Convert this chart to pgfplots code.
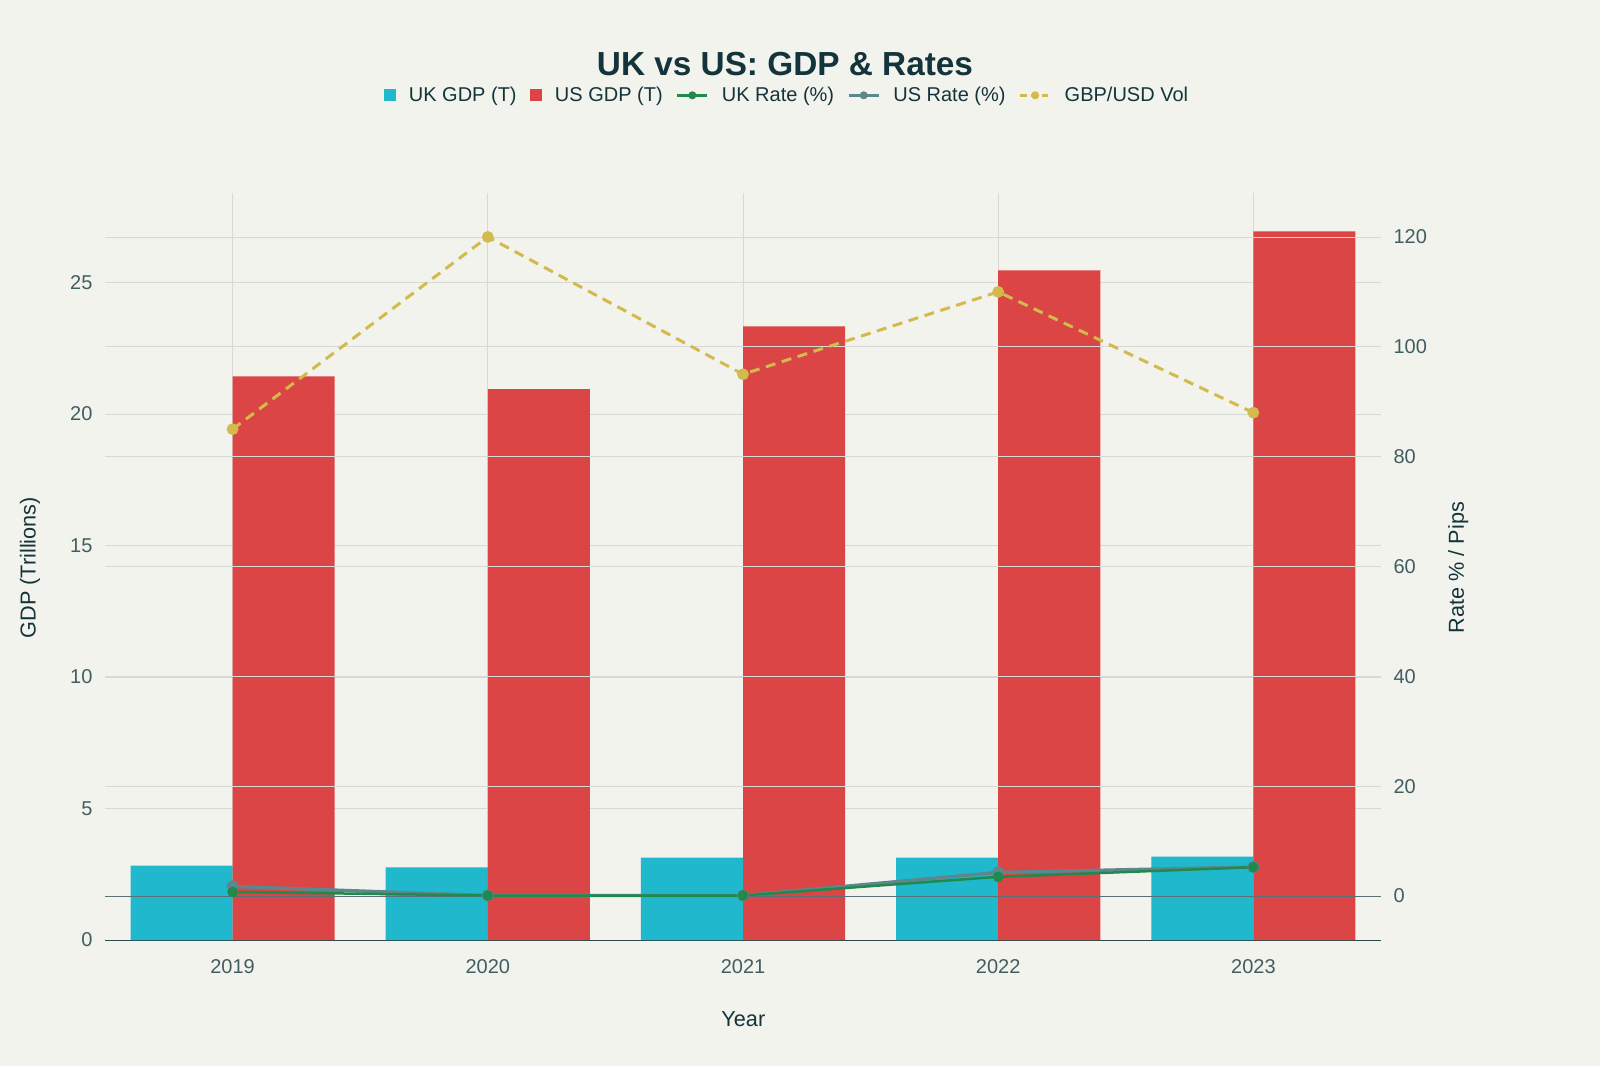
\documentclass[border=0pt]{standalone}
\usepackage{pgfplots}
\pgfplotsset{compat=1.18}
\usepackage{fontspec}
\setmainfont{Liberation Sans}
\definecolor{bg}{HTML}{F3F3EE}
\definecolor{ukc}{HTML}{1FB8CD}
\definecolor{usc}{HTML}{DB4545}
\definecolor{ukr}{HTML}{1F8A4C}
\definecolor{usr}{HTML}{5D878F}
\definecolor{vol}{HTML}{D2BA4C}
\definecolor{txt}{HTML}{13343B}
\definecolor{gridc}{HTML}{D8D8D4}
\begin{document}
\begin{tikzpicture}
\fill[bg] (0pt,0pt) rectangle (960pt,639.6pt);
\pgfplotsset{every axis/.style={scale only axis, width=765.6pt, height=448.2pt,
  at={(63pt,75.6pt)}, anchor=south west, xmin=-0.5, xmax=4.5,
  major tick length=0pt, tick label style={font=\fontsize{12}{14}\selectfont, text=txt!80},
  /pgf/number format/assume math mode=true}}
\begin{axis}[ymin=0, ymax=28.4, ytick={0,5,...,25},
  xtick={0,1,2,3,4}, xticklabels={2019,2020,2021,2022,2023},
  xticklabel style={yshift=-8pt}, yticklabel style={xshift=-4pt},
  axis x line*=bottom, axis y line*=left, y axis line style={draw=none},
  x axis line style={draw=txt!90},
  grid=major, grid style={gridc},
  ybar, bar width=0.4,
  legend columns=5,
  legend style={at={(rel axis cs:0.535,1.11)}, anchor=south, draw=none, fill=none,
    font=\fontsize{12}{14}\selectfont, text=txt, column sep=6pt},
  legend image code/.code={\fill[#1] (0pt,-3.5pt) rectangle (7pt,3.5pt);}]
\addplot[fill=ukc, draw=none, bar shift=-0.2] coordinates {(0,2.83) (1,2.76) (2,3.13) (3,3.13) (4,3.17)};
\addlegendentry{UK GDP (T)}
\addplot[fill=usc, draw=none, bar shift=0.2] coordinates {(0,21.43) (1,20.94) (2,23.33) (3,25.46) (4,26.94)};
\addlegendentry{US GDP (T)}
\addlegendimage{legend image code/.code={\draw[ukr,line width=1.5pt] (0pt,0pt)--(18pt,0pt); \fill[ukr] (9pt,0pt) circle (2.2pt);}}
\addlegendentry{UK Rate (\%)}
\addlegendimage{legend image code/.code={\draw[usr,line width=1.5pt] (0pt,0pt)--(18pt,0pt); \fill[usr] (9pt,0pt) circle (2.2pt);}}
\addlegendentry{US Rate (\%)}
\addlegendimage{legend image code/.code={\draw[vol,line width=1.5pt,dash pattern=on 4pt off 2.5pt] (0pt,0pt)--(18pt,0pt); \fill[vol] (9pt,0pt) circle (2.2pt);}}
\addlegendentry{GBP/USD Vol}
\end{axis}
\begin{axis}[ymin=-8, ymax=128, ytick={0,20,...,120}, yticklabel style={xshift=4pt},
  axis x line=none, axis y line*=right, y axis line style={draw=none},
  ymajorgrids, grid style={gridc},
  extra y ticks={0}, extra y tick labels={}, extra y tick style={grid style={txt!70}}]
\addplot[usr, line width=2pt, mark=*, mark size=2.6pt] coordinates {(0,1.75) (1,0.1) (2,0.1) (3,4.3) (4,5.3)};
\addplot[ukr, line width=1.5pt, mark=*, mark size=2.4pt] coordinates {(0,0.75) (1,0.1) (2,0.1) (3,3.5) (4,5.25)};
\addplot[vol, line width=1.8pt, dash pattern=on 6pt off 4pt, mark=*, mark size=2.6pt, mark options={solid}] coordinates {(0,85) (1,120) (2,95) (3,110) (4,88)};
\end{axis}
\node[font=\bfseries\fontsize{20}{24}\selectfont, text=txt] at (471pt,601pt) {UK vs US: GDP \& Rates};
\node[font=\fontsize{13}{16}\selectfont, text=txt] at (446pt,28pt) {Year};
\node[font=\fontsize{13}{16}\selectfont, text=txt, rotate=90] at (18pt,299pt) {GDP (Trillions)};
\node[font=\fontsize{13}{16}\selectfont, text=txt, rotate=90] at (875pt,299pt) {Rate \% / Pips};
\end{tikzpicture}
\end{document}
